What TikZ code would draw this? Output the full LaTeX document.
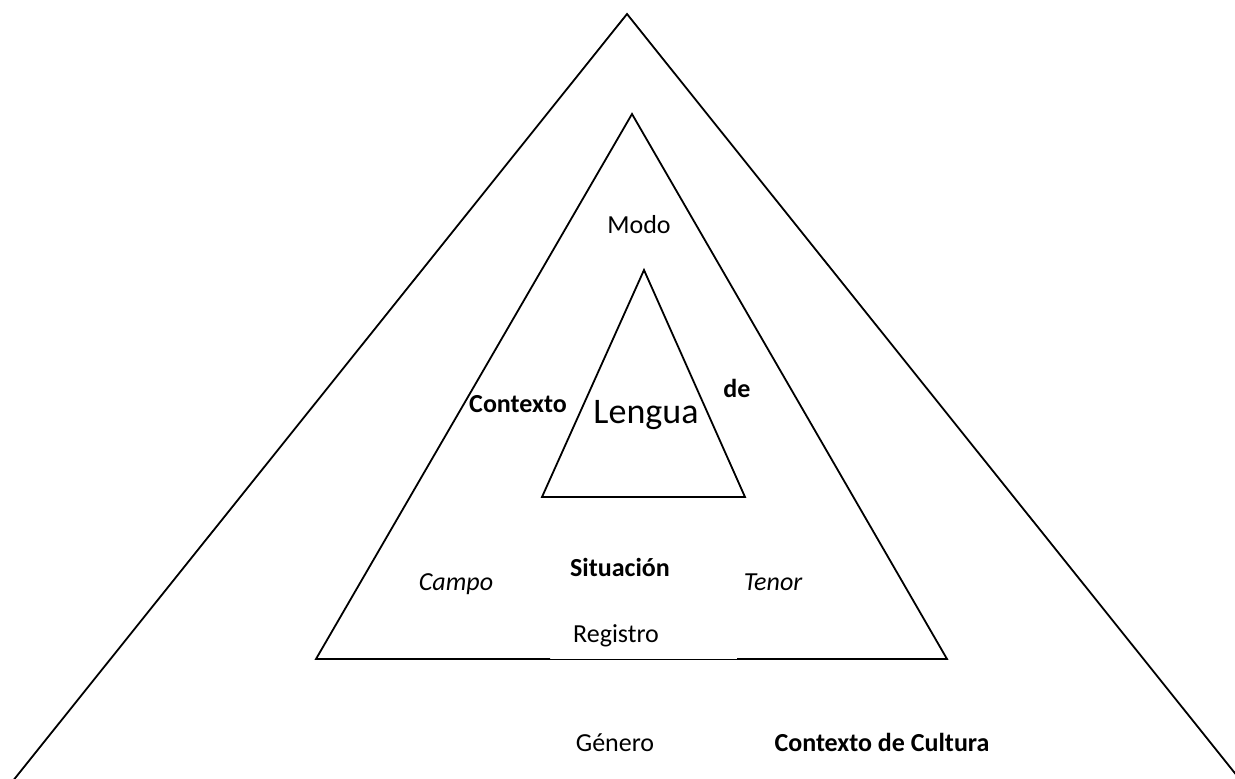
\documentclass[tikz,border=0pt]{standalone}
\usepackage{fontspec}
\setmainfont{Carlito}
\begin{document}
\begin{tikzpicture}[x=1pt,y=-1pt,
  edge/.style={line width=1.8pt, line join=miter},
  thinedge/.style={line width=1pt},
  lbl/.style={anchor=base, inner sep=0pt, font=\fontsize{26}{31}\selectfont},
  blbl/.style={lbl, font=\fontsize{26}{31}\selectfont\bfseries},
  ilbl/.style={lbl, font=\fontsize{26}{31}\selectfont\itshape},
  biglbl/.style={anchor=base, inner sep=0pt, font=\fontsize{36}{42}\selectfont}]
\useasboundingbox (0,0) rectangle (1235,779);
\clip (0,0) rectangle (1235,779);
% outer triangle
\coordinate (oA) at (627,14);
\coordinate (oL) at (12,782);
\coordinate (oR) at (1242,782);
\draw[edge] (oL) -- (oA) -- (oR);
% middle triangle
\coordinate (mA) at (632,114);
\coordinate (mL) at (316,659);
\coordinate (mR) at (947,659);
\coordinate (mG1) at (550,659);
\coordinate (mG2) at (737,659);
\draw[edge] (mG1) -- (mL) -- (mA) -- (mR) -- (mG2);
\draw[thinedge] (mG1) -- (mG2);
% inner triangle
\coordinate (iA) at (644,270);
\coordinate (iL) at (542,497);
\coordinate (iR) at (745,497);
\draw[edge] (iA) -- (iL) -- (iR) -- cycle;
% labels
\node[lbl] (modo) at (639,233) {Modo};
\node[blbl] (contexto) at (518,412) {Contexto};
\node[biglbl] (lengua) at (646,423) {Lengua};
\node[blbl] (de) at (737,397) {de};
\node[ilbl] (campo) at (456,590) {Campo};
\node[blbl] (situacion) at (620,576) {Situación};
\node[ilbl] (tenor) at (773,590) {Tenor};
\node[lbl] (registro) at (616,642) {Registro};
\node[lbl] (genero) at (615,751) {Género};
\node[blbl] (cultura) at (882,751) {Contexto de Cultura};
\end{tikzpicture}
\end{document}
